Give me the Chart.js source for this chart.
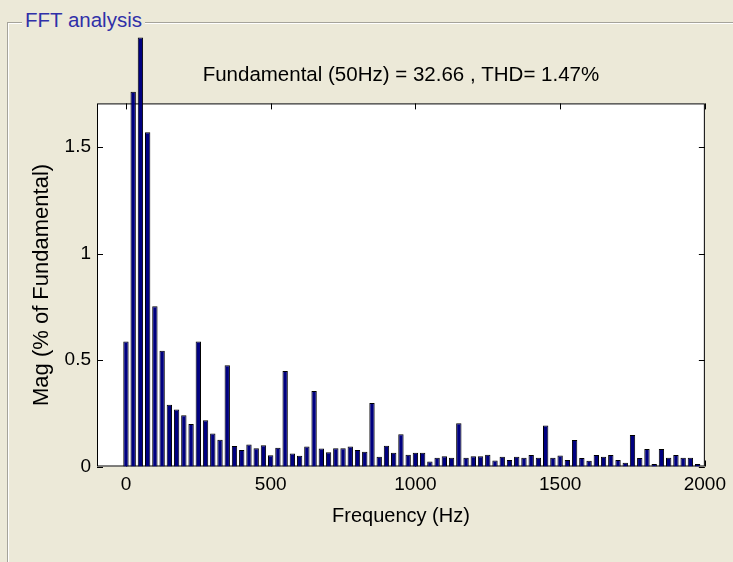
<!DOCTYPE html>
<html>
<head>
<meta charset="utf-8">
<script src="https://cdn.jsdelivr.net/npm/chart.js@4/dist/chart.umd.min.js"></script>
<style>
  html, body { margin: 0; padding: 0; background: #ece9d8; }
  #wrap { position: relative; width: 733px; height: 562px; overflow: hidden; }
  #group {
    position: absolute; left: 7px; top: 22px; width: 800px; height: 700px;
    border: 1px solid #a5a39a; box-shadow: inset 1px 1px 0 #fff, 1px 1px 0 #fff;
  }
  #groupLabel {
    position: absolute; left: 22px; top: 8px; padding: 0 3px;
    background: #ece9d8; color: #3030a8;
    font: 20.5px "Liberation Sans", Arial, sans-serif;
  }
  canvas { position: absolute; left: 0; top: 0; }
</style>
</head>
<body>
<div id="wrap">
  <div id="group"></div>
  <div id="groupLabel">FFT analysis</div>
  <canvas id="fft" width="733" height="562"></canvas>
</div>
<script>
// harmonic spectrum
const freqHz = [
  0, 25, 50, 75, 100, 125, 150, 175, 200, 225,
  250, 275, 300, 325, 350, 375, 400, 425, 450, 475,
  500, 525, 550, 575, 600, 625, 650, 675, 700, 725,
  750, 775, 800, 825, 850, 875, 900, 925, 950, 975,
  1000, 1025, 1050, 1075, 1100, 1125, 1150, 1175, 1200, 1225,
  1250, 1275, 1300, 1325, 1350, 1375, 1400, 1425, 1450, 1475,
  1500, 1525, 1550, 1575, 1600, 1625, 1650, 1675, 1700, 1725,
  1750, 1775, 1800, 1825, 1850, 1875, 1900, 1925, 1950, 1975
];
const magPct = [
  0.587, 1.76, 2.015, 1.57, 0.753, 0.544, 0.29, 0.268, 0.241, 0.2,
  0.587, 0.217, 0.155, 0.126, 0.475, 0.096, 0.077, 0.103, 0.086, 0.1,
  0.053, 0.088, 0.448, 0.061, 0.051, 0.094, 0.355, 0.084, 0.067, 0.086,
  0.086, 0.094, 0.078, 0.069, 0.298, 0.046, 0.098, 0.065, 0.151, 0.055,
  0.065, 0.065, 0.023, 0.041, 0.048, 0.041, 0.203, 0.041, 0.048, 0.048,
  0.055, 0.028, 0.046, 0.03, 0.046, 0.041, 0.054, 0.041, 0.192, 0.041,
  0.052, 0.03, 0.124, 0.04, 0.027, 0.054, 0.046, 0.054, 0.03, 0.018,
  0.148, 0.04, 0.082, 0.012, 0.082, 0.041, 0.054, 0.041, 0.041, 0.012
];
const xTicks = [0, 500, 1000, 1500, 2000];
const yTicks = [0, 0.5, 1, 1.5];
const titleText = 'Fundamental (50Hz) = 32.66 , THD= 1.47%';

Chart.defaults.font.family = '"Liberation Sans", Arial, sans-serif';
Chart.defaults.color = '#000';

// white axes box, black frame and inward ticks on all four sides
const axesBox = {
  id: 'axesBox',
  beforeDatasetsDraw(chart) {
    const { ctx, chartArea: a, scales } = chart;
    ctx.save();
    ctx.fillStyle = '#fff';
    ctx.fillRect(a.left, a.top, a.right - a.left, a.bottom - a.top);
    ctx.strokeStyle = '#000';
    ctx.lineWidth = 1;
    ctx.strokeRect(a.left + 0.5, a.top + 0.5, a.right - a.left - 1, a.bottom - a.top - 1);
    const len = 6;
    ctx.beginPath();
    xTicks.forEach((v) => {
      const px = Math.round(scales.x.getPixelForValue(v)) + 0.5;
      ctx.moveTo(px, a.bottom); ctx.lineTo(px, a.bottom - len);
      ctx.moveTo(px, a.top); ctx.lineTo(px, a.top + len);
    });
    yTicks.forEach((v) => {
      const py = Math.round(scales.y.getPixelForValue(v)) + 0.5;
      ctx.moveTo(a.left, py); ctx.lineTo(a.left + len, py);
      ctx.moveTo(a.right, py); ctx.lineTo(a.right - len, py);
    });
    ctx.stroke();
    ctx.restore();
  }
};

new Chart(document.getElementById('fft'), {
  type: 'bar',
  data: {
    datasets: [{
      data: freqHz.map((f, i) => ({ x: f, y: magPct[i] })),
      backgroundColor: '#000080',
      borderColor: '#000',
      borderWidth: 1,
      categoryPercentage: 1,
      barPercentage: 0.74,
      clip: false
    }]
  },
  options: {
    responsive: false,
    animation: false,
    layout: { padding: { left: 0, right: 24, top: 0, bottom: 0 } },
    plugins: {
      legend: { display: false },
      tooltip: { enabled: false },
      title: {
        display: true,
        text: titleText,
        fullSize: false,
        font: { size: 20.5, weight: 'normal' },
        color: '#000',
        padding: { top: 63, bottom: 15.8 }
      }
    },
    scales: {
      x: {
        type: 'linear',
        min: -100,
        max: 2000,
        offset: false,
        grid: { display: false, drawTicks: false },
        border: { display: false },
        afterBuildTicks: (s) => { s.ticks = xTicks.map((v) => ({ value: v })); },
        afterFit: (s) => { s.height = 95.5; },
        ticks: { font: { size: 19 }, padding: 7, maxRotation: 0, callback: (v) => String(v) },
        title: { display: true, text: 'Frequency (Hz)', font: { size: 20 }, padding: { top: 0, bottom: 34 } }
      },
      y: {
        min: 0,
        max: 1.705,
        grid: { display: false, drawTicks: false },
        border: { display: false },
        afterBuildTicks: (s) => { s.ticks = yTicks.map((v) => ({ value: v })); },
        afterFit: (s) => { s.width = 97; },
        ticks: { font: { size: 19 }, padding: 6, callback: (v) => String(v) },
        title: { display: true, text: 'Mag (% of Fundamental)', font: { size: 22 }, padding: { top: 29, bottom: 0 } }
      }
    }
  },
  plugins: [axesBox]
});
</script>
</body>
</html>
